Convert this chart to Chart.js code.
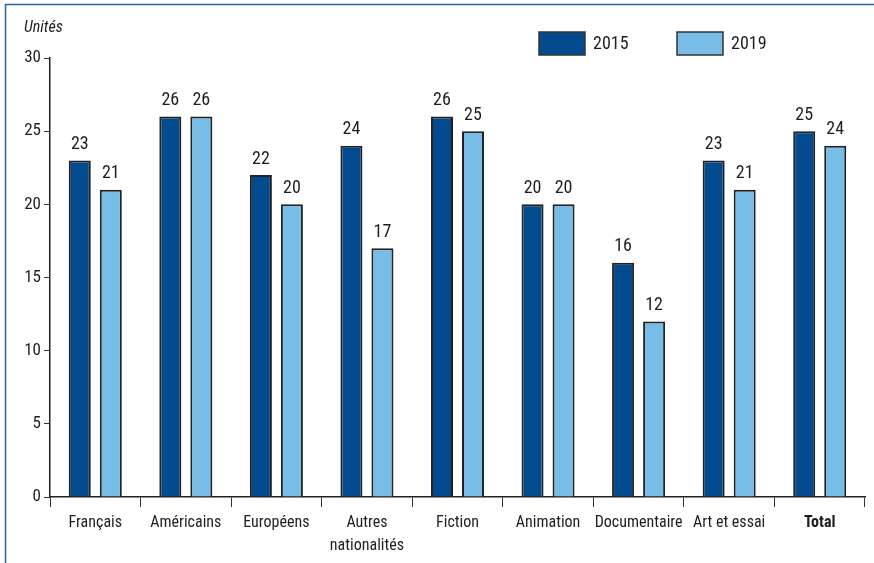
<!DOCTYPE html>
<html lang="fr">
<head>
<meta charset="utf-8">
<title>Unités</title>
<script src="https://cdn.jsdelivr.net/npm/chart.js@4/dist/chart.umd.min.js"></script>
<style>
  html, body { margin: 0; padding: 0; background: #fff; }
  #wrap { position: relative; width: 874px; height: 563px; }
</style>
</head>
<body>
<div id="wrap"><canvas id="graphique" width="874" height="563"></canvas></div>
<script>
const categories = ['Français', 'Américains', 'Européens', ['Autres', 'nationalités'], 'Fiction', 'Animation', 'Documentaire', 'Art et essai', 'Total'];
const valeurs2015 = [23, 26, 22, 24, 26, 20, 16, 23, 25];
const valeurs2019 = [21, 26, 20, 17, 25, 20, 12, 21, 24];
const annees = ['2015', '2019'];
const ticksY = [0, 5, 10, 15, 20, 25, 30];

const POLICE = '"Liberation Sans Narrow", "Roboto Condensed", "Liberation Sans", sans-serif';
const TEXTE = '#1e1e1e';
const COULEURS = ['#034a8e', '#77bde8'];

// cadre bleu en haut et à gauche
const cadre = {
  id: 'cadre',
  beforeDraw(chart) {
    const ctx = chart.ctx;
    ctx.save();
    ctx.strokeStyle = '#2b5ea6';
    ctx.lineWidth = 1.5;
    ctx.beginPath();
    ctx.moveTo(5.5, 563);
    ctx.lineTo(5.5, 4.5);
    ctx.lineTo(874, 4.5);
    ctx.stroke();
    ctx.restore();
  }
};

// valeurs au-dessus des barres, unité et légende
const annotations = {
  id: 'annotations',
  afterDatasetsDraw(chart) {
    const ctx = chart.ctx;
    ctx.save();
    ctx.fillStyle = TEXTE;
    ctx.font = '18px ' + POLICE;
    ctx.textAlign = 'center';
    ctx.textBaseline = 'bottom';
    chart.data.datasets.forEach((ds, i) => {
      chart.getDatasetMeta(i).data.forEach((bar, j) => {
        ctx.fillText(ds.data[j], bar.x, bar.y - 7);
      });
    });

    ctx.font = 'italic 16px ' + POLICE;
    ctx.textAlign = 'left';
    ctx.textBaseline = 'middle';
    ctx.fillText('Unités', 24, 28);

    // légende
    const positions = [539, 677];
    chart.data.datasets.forEach((ds, i) => {
      const x = positions[i];
      ctx.fillStyle = ds.backgroundColor;
      ctx.fillRect(x, 32, 46, 23);
      ctx.strokeStyle = '#333';
      ctx.lineWidth = 1.5;
      ctx.strokeRect(x, 32, 46, 23);
      ctx.fillStyle = TEXTE;
      ctx.font = '18px ' + POLICE;
      ctx.fillText(ds.label, x + 54, 44);
    });
    ctx.restore();
  }
};

const ctx = document.getElementById('graphique').getContext('2d');
new Chart(ctx, {
  type: 'bar',
  data: {
    labels: categories,
    datasets: annees.map((annee, i) => ({
      label: annee,
      data: i === 0 ? valeurs2015 : valeurs2019,
      backgroundColor: COULEURS[i],
      borderColor: '#222',
      borderWidth: 2,
      categoryPercentage: 0.685,
      barPercentage: 0.71
    }))
  },
  options: {
    responsive: false,
    animation: false,
    events: [],
    layout: { padding: { left: 0, right: 9, top: 58, bottom: 0 } },
    plugins: {
      legend: { display: false },
      tooltip: { enabled: false }
    },
    scales: {
      x: {
        offset: true,
        grid: {
          offset: true,
          drawOnChartArea: false,
          drawTicks: true,
          tickLength: 10,
          color: '#333',
          lineWidth: 1
        },
        border: { display: true, color: '#222', width: 1.5 },
        ticks: {
          color: TEXTE,
          padding: 4,
          maxRotation: 0,
          autoSkip: false,
          font: ctx => ({
            family: POLICE,
            size: 16,
            weight: ctx.index === categories.length - 1 ? 'bold' : 'normal',
            lineHeight: 1.45
          })
        },
        afterFit: s => { s.height = 66; }
      },
      y: {
        min: 0,
        max: 30,
        afterBuildTicks: s => { s.ticks = ticksY.map(v => ({ value: v })); },
        grid: {
          drawOnChartArea: false,
          drawTicks: true,
          tickLength: 6,
          color: '#333'
        },
        border: { display: true, color: '#222', width: 1.5 },
        ticks: {
          color: TEXTE,
          padding: 3,
          font: { family: POLICE, size: 17 }
        },
        afterFit: s => { s.width = 50; }
      }
    }
  },
  plugins: [cadre, annotations]
});
</script>
</body>
</html>
